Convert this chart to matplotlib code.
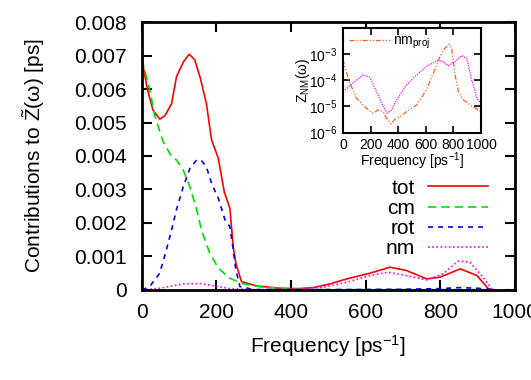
import numpy as np
import matplotlib
matplotlib.use("Agg")
import matplotlib.pyplot as plt
from matplotlib.ticker import LogLocator, NullFormatter

plt.rcParams['font.family'] = ['Liberation Sans', 'DejaVu Sans']
plt.rcParams['mathtext.default'] = 'regular'

# MAIN PANEL DATA (frequency in ps^-1, contribution in ps)

tot_freq = [0, 15, 30, 48, 62, 80, 93, 111, 127, 142, 157, 173, 187, 205, 221, 236,
            245, 252, 267, 307, 370, 420, 460, 504, 549, 611, 665, 709, 763, 799,
            853, 898, 928, 945]
tot_val = [0.0069, 0.0060, 0.00537, 0.0051, 0.0052, 0.00557, 0.00637, 0.0068, 0.00704,
           0.00687, 0.00632, 0.00557, 0.00448, 0.00393, 0.00293, 0.00244, 0.00129,
           0.0008, 0.00025, 0.00012, 0.00005, 0.00004, 0.00007, 0.00018, 0.00033,
           0.0005, 0.00068, 0.00058, 0.00033, 0.00038, 0.00063, 0.00043, 0.00004, 0.0]

cm_freq = [0, 21, 35, 57, 80, 93, 111, 129, 147, 160, 182, 205, 236, 272, 325, 400,
           500, 600, 700, 800, 900, 945]
cm_val = [0.0069, 0.0060, 0.0052, 0.00443, 0.00398, 0.00388, 0.00358, 0.00308, 0.00239,
          0.00179, 0.0011, 0.00065, 0.00035, 0.00018, 0.00008, 0.00003, 0.00001,
          0.00001, 0.00001, 0.00001, 0.00001, 0.0]

rot_freq = [0, 21, 48, 66, 80, 93, 111, 129, 147, 160, 173, 187, 205, 223, 236, 245,
            252, 263, 300, 500, 700, 800, 850, 900, 945]
rot_val = [0.0, 0.0001, 0.0005, 0.0012, 0.0018, 0.0024, 0.00308, 0.00363, 0.00388,
           0.00386, 0.00368, 0.00318, 0.00274, 0.00209, 0.00189, 0.0012, 0.0006, 0.0001,
           0.00001, 0.00001, 0.00002, 0.00004, 0.00007, 0.00005, 0.0]

nm_freq = [0, 48, 111, 157, 196, 236, 300, 400, 486, 549, 611, 660, 709, 763, 807, 847,
           879, 914, 937, 950]
nm_val = [0.0, 0.00005, 0.00018, 0.00019, 0.00012, 0.00004, 0.00001, 0.00002, 0.00008,
          0.00023, 0.00043, 0.00053, 0.00043, 0.0003, 0.00048, 0.00086, 0.00083, 0.00038,
          0.00004, 0.0]

# INSET DATA (log10 of Z_NM)

ins_nm_freq = [0, 73, 145, 194, 242, 291, 320, 351, 388, 460, 533, 605, 678, 726, 762,
               811, 860, 896, 932, 969, 1000]
ins_nm_log = [-4.43, -4.1, -3.79, -3.88, -4.43, -5.0, -5.26, -5.13, -4.75, -4.17, -3.79,
              -3.47, -3.24, -3.28, -3.44, -3.28, -3.05, -3.15, -3.98, -4.68, -4.9]

proj_freq = [0, 12, 49, 97, 170, 218, 254, 291, 315, 347, 376, 412, 460, 533, 605, 654,
             702, 738, 770, 787, 811, 835, 872, 920, 1000]
proj_log = [-3.2, -3.47, -4.1, -4.68, -5.07, -5.26, -5.13, -5.2, -5.45, -5.67, -5.49,
            -5.39, -5.2, -4.94, -4.36, -3.72, -3.09, -2.77, -2.61, -2.77, -3.79, -4.43,
            -4.75, -4.94, -5.2]

fig = plt.figure(figsize=(5.31, 3.80), dpi=100)
ax = fig.add_axes([0.267, 0.237, 0.703, 0.705])

ax.plot(tot_freq, tot_val, color='#ff0000', lw=1.2, label='tot')
ax.plot(cm_freq, cm_val, color='#00e000', lw=1.2, ls=(0, (5, 3)), label='cm')
ax.plot(rot_freq, rot_val, color='#0000ff', lw=1.2, ls=(0, (3, 3)), label='rot')
ax.plot(nm_freq, nm_val, color='#ff00ff', lw=1.2, ls=(0, (1, 1.5)), label='nm')

ax.set_xlim(0, 1000)
ax.set_ylim(0, 0.008)
ax.set_xticks([0, 200, 400, 600, 800, 1000])
ax.set_yticks(np.arange(0, 0.0081, 0.001))
ax.set_yticklabels(['0', '0.001', '0.002', '0.003', '0.004', '0.005', '0.006',
                    '0.007', '0.008'])
ax.tick_params(direction='in', length=7, width=1.5, top=True, right=True,
               labelsize=15)
ax.tick_params(axis='x', pad=9.5)
ax.tick_params(axis='y', pad=11)
for s in ax.spines.values():
    s.set_linewidth(2)
ax.set_xlabel('Frequency [ps$^{-1}$]', fontsize=15, labelpad=8)
ax.set_ylabel(r'Contributions to $\tilde{Z}(\omega)$ [ps]', fontsize=15, labelpad=19)

ax.legend(loc='upper right', bbox_to_anchor=(0.928, 0.415), frameon=False,
          markerfirst=False, fontsize=15, handlelength=2.9, handletextpad=0.6,
          labelspacing=0.05, borderpad=0, borderaxespad=0)

# INSET

ins = fig.add_axes([0.646, 0.651, 0.260, 0.275])
ins.plot(proj_freq, 10 ** np.array(proj_log), color='#ff6020', lw=0.9,
         ls=(0, (4, 1.5, 1, 1.5, 1, 1.5)), label='nm$_{proj}$')
ins.plot(ins_nm_freq, 10 ** np.array(ins_nm_log), color='#ff00ff', lw=0.9,
         ls=(0, (1, 1)))
ins.set_yscale('log')
ins.set_xlim(0, 1000)
ins.set_ylim(1e-6, 1e-2)
ins.set_xticks([0, 200, 400, 600, 800, 1000])
ins.set_yticks([1e-6, 1e-5, 1e-4, 1e-3])
ins.yaxis.set_minor_locator(LogLocator(base=10, subs=np.arange(2, 10)))
ins.yaxis.set_minor_formatter(NullFormatter())
ins.tick_params(which='major', direction='in', length=5, width=1.2, top=True,
                right=True, labelsize=10, pad=4)
ins.tick_params(which='minor', direction='in', length=3, width=0.8, right=True)
for s in ins.spines.values():
    s.set_linewidth(1.5)
ins.set_xlabel('Frequency [ps$^{-1}$]', fontsize=10, labelpad=-1)
ins.set_ylabel(r'Z$_{NM}$($\omega$)', fontsize=10, labelpad=-2)
ins.legend(loc='upper left', frameon=False, fontsize=10, handlelength=3.0,
           handletextpad=0.2, borderpad=0.2, borderaxespad=0.2)

fig.savefig('out.png', dpi=100)
